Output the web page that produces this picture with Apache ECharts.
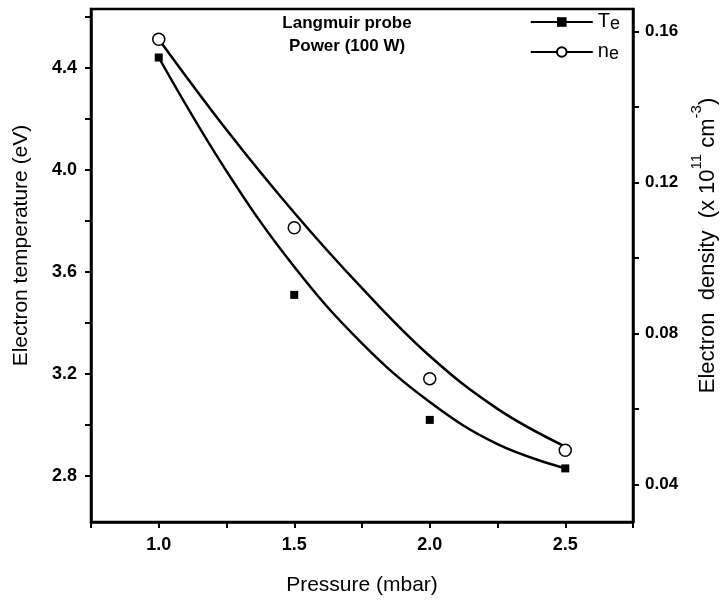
<!DOCTYPE html>
<html>
<head>
<meta charset="utf-8">
<script src="https://cdn.jsdelivr.net/npm/echarts@6/dist/echarts.min.js"></script>
<style>
  html, body { margin: 0; padding: 0; background: #fff; }
  #chart { width: 725px; height: 600px; }
</style>
</head>
<body>
<div id="chart"></div>
<script>
// measured points
var pressure = [1.0, 1.5, 2.0, 2.5];
var teVals = [4.44, 3.51, 3.02, 2.83];
var neVals = [0.158, 0.108, 0.068, 0.049];

// fitted curves
var fitPressure = [1.0, 1.25, 1.5, 1.75, 2.0, 2.25, 2.5];
var teFit = [4.44, 3.995, 3.62, 3.32, 3.09, 2.925, 2.83];
var neFit = [0.158, 0.134, 0.112, 0.092, 0.074, 0.060, 0.050];

// ticks
var xTicks = [0.75, 1.0, 1.25, 1.5, 1.75, 2.0, 2.25, 2.5, 2.75];
var xLabels = [1.0, 1.5, 2.0, 2.5];
var teTicks = [2.8, 3.0, 3.2, 3.4, 3.6, 3.8, 4.0, 4.2, 4.4, 4.6];
var teLabels = [2.8, 3.2, 3.6, 4.0, 4.4];
var neTicks = [0.04, 0.06, 0.08, 0.10, 0.12, 0.14, 0.16];
var neLabels = [0.04, 0.08, 0.12, 0.16];

function pairs(xs, ys) {
  return xs.map(function (x, i) { return [x, ys[i]]; });
}

var font = '"Liberation Sans", Arial, sans-serif';
var myChart = echarts.init(document.getElementById('chart'));

var option = {
  animation: false,
  backgroundColor: '#fff',
  textStyle: { fontFamily: font, color: '#000' },
  grid: {
    left: 91, right: 92, top: 9, bottom: 78,
    outerBoundsMode: 'none',
    show: true, borderColor: '#000', borderWidth: 2.5
  },
  graphic: [{
    type: 'text',
    x: 347, y: 12,
    style: {
      text: 'Langmuir probe\nPower (100 W)',
      font: 'bold 17px ' + font,
      fill: '#000',
      align: 'center',
      lineHeight: 23
    }
  }],
  legend: {
    orient: 'vertical',
    right: 100, top: 0,
    itemWidth: 62, itemHeight: 12, itemGap: 2,
    data: ['Te', 'ne'],
    lineStyle: { width: 2, opacity: 1, color: '#000' },
    formatter: function (name) {
      return name === 'Te' ? '{b|T}{s|e}' : '{b|n}{s|e}';
    },
    textStyle: {
      rich: {
        b: { fontSize: 20, fontFamily: font, color: '#000', lineHeight: 22, verticalAlign: 'top' },
        s: { fontSize: 18, fontFamily: font, color: '#000', lineHeight: 22, verticalAlign: 'bottom', padding: [10, 0, 0, 0] }
      }
    }
  },
  xAxis: {
    type: 'value',
    min: 0.75, max: 2.75,
    name: 'Pressure (mbar)',
    nameLocation: 'middle',
    nameGap: 53,
    nameTextStyle: { fontSize: 21, fontFamily: font, color: '#000' },
    axisLine: { show: true, lineStyle: { color: '#000', width: 2.5 } },
    axisTick: { show: true, length: 6, customValues: xTicks, lineStyle: { color: '#000', width: 2 } },
    axisLabel: {
      customValues: xLabels, margin: 14,
      fontSize: 18, fontWeight: 'bold', color: '#000', fontFamily: font,
      formatter: function (v) { return v.toFixed(1); }
    },
    splitLine: { show: false }
  },
  yAxis: [{
    type: 'value',
    position: 'left',
    min: 2.62, max: 4.63,
    name: 'Electron temperature (eV)',
    nameLocation: 'middle',
    nameRotate: 90,
    nameGap: 59,
    nameTextStyle: { fontSize: 21, fontFamily: font, color: '#000', padding: [0, 0, 0, 40] },
    axisLine: { show: true, lineStyle: { color: '#000', width: 2.5 } },
    axisTick: { show: true, length: 6, customValues: teTicks, lineStyle: { color: '#000', width: 2 } },
    axisLabel: {
      customValues: teLabels, margin: 14,
      fontSize: 18, fontWeight: 'bold', color: '#000', fontFamily: font,
      formatter: function (v) { return v.toFixed(1); }
    },
    splitLine: { show: false }
  }, {
    type: 'value',
    position: 'right',
    min: 0.030, max: 0.166,
    name: '{m|Electron  density  (x 10}{s|11}{m| cm}{s|-3}{m|)}',
    nameLocation: 'middle',
    nameRotate: 90,
    nameGap: 56,
    nameTextStyle: {
      padding: [0, 0, 0, 40],
      rich: {
        m: { fontSize: 22, fontFamily: font, color: '#000', lineHeight: 30, verticalAlign: 'bottom' },
        s: { fontSize: 15, fontFamily: font, color: '#000', lineHeight: 30, verticalAlign: 'top' }
      }
    },
    axisLine: { show: true, lineStyle: { color: '#000', width: 2.5 } },
    axisTick: { show: true, length: 6, customValues: neTicks, lineStyle: { color: '#000', width: 2 } },
    axisLabel: {
      customValues: neLabels, margin: 12,
      fontSize: 17, fontWeight: 'bold', color: '#000', fontFamily: font,
      formatter: function (v) { return v.toFixed(2); }
    },
    splitLine: { show: false }
  }],
  series: [{
    name: 'Te fit',
    type: 'line',
    yAxisIndex: 0,
    smooth: 0.4,
    symbol: 'none',
    lineStyle: { color: '#000', width: 2.5 },
    data: pairs(fitPressure, teFit),
    z: 2
  }, {
    name: 'ne fit',
    type: 'line',
    yAxisIndex: 1,
    smooth: 0.4,
    symbol: 'none',
    lineStyle: { color: '#000', width: 2.5 },
    data: pairs(fitPressure, neFit),
    z: 2
  }, {
    name: 'Te',
    type: 'line',
    yAxisIndex: 0,
    symbol: 'rect',
    symbolSize: 8,
    lineStyle: { width: 0, opacity: 0 },
    itemStyle: { color: '#000' },
    data: pairs(pressure, teVals),
    z: 5
  }, {
    name: 'ne',
    type: 'line',
    yAxisIndex: 1,
    symbol: 'circle',
    symbolSize: 12,
    lineStyle: { width: 0, opacity: 0 },
    itemStyle: { color: '#fff', borderColor: '#000', borderWidth: 1.5 },
    data: pairs(pressure, neVals),
    z: 5
  }]
};

option && myChart.setOption(option);
window.addEventListener('resize', function () {
  myChart.resize();
});
</script>
</body>
</html>
